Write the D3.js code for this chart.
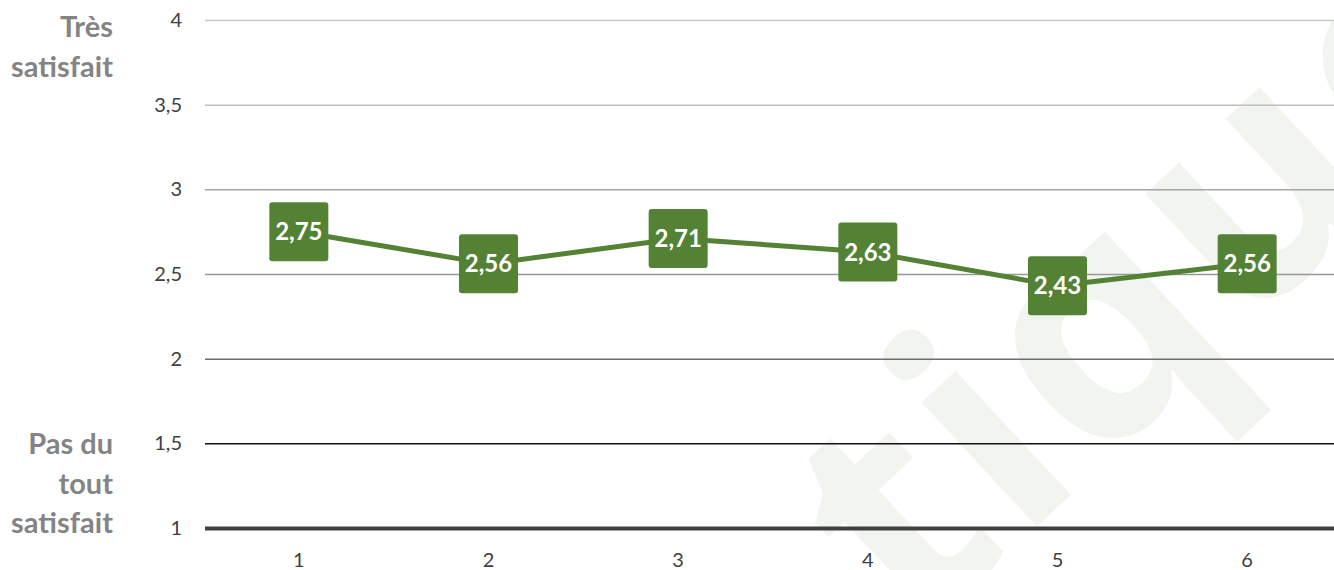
<!DOCTYPE html>
<html>
<head>
<meta charset="utf-8">
<script src="https://cdn.jsdelivr.net/npm/d3@7"></script>
<style>
  body { margin: 0; background: #fff; }
  svg { display: block; font-family: Lato, "Open Sans", sans-serif; }
</style>
</head>
<body>
<div id="chart"></div>
<script>

// data
const categories = [1, 2, 3, 4, 5, 6];
const scores = [2.75, 2.56, 2.71, 2.63, 2.43, 2.56];
const yTicks = [1, 1.5, 2, 2.5, 3, 3.5, 4];
const topLabel = ['Très', 'satisfait'];
const bottomLabel = ['Pas du', 'tout', 'satisfait'];

// grid colours, one per tick (bottom to top)
const gridColors = ['#404040', '#111111', '#6e6e6e', '#999999', '#a6a6a6', '#bfbfbf', '#c8c8c8'];

const width = 1334;
const height = 570;
const green = '#548235';

const fr = d3.formatLocale({ decimal: ',', thousands: ' ', grouping: [3], currency: ['', ' €'] });
const tickFmt = fr.format('~f');
const valueFmt = fr.format('.2f');

svg = d3.select('#chart').append('svg')
  .attr('width', width)
  .attr('height', height);

// faint watermark behind everything (runs off the edge, as in the original)
svg.append('text')
  .attr('transform', 'translate(915,640) rotate(-43)')
  .attr('font-family', 'Open Sans, sans-serif')
  .attr('font-weight', 'bold')
  .attr('font-size', 310)
  .attr('letter-spacing', 8)
  .attr('fill', '#f2f4f0')
  .text('tique');

const x = d3.scaleBand()
  .domain(categories)
  .range([204, 1342]);

const y = d3.scaleLinear()
  .domain([1, 4])
  .range([528, 20]);

const gridLeft = 205;

// horizontal grid + y labels
const yAxis = d3.axisLeft(y)
  .tickValues(yTicks)
  .tickFormat(tickFmt)
  .tickSize(-(width - gridLeft))
  .tickPadding(23);

const gy = svg.append('g')
  .attr('transform', 'translate(' + gridLeft + ',0)')
  .call(yAxis);

gy.select('.domain').remove();
gy.selectAll('.tick line')
  .attr('stroke', (d, i) => gridColors[i])
  .attr('stroke-width', d => d === 1 ? 4 : 1.5);
gy.selectAll('.tick text')
  .attr('fill', '#404040')
  .attr('font-size', 20)
  .attr('font-family', 'Lato, sans-serif');

// x labels
const xAxis = d3.axisBottom(x).tickSize(0).tickPadding(25);
const gx = svg.append('g')
  .attr('transform', 'translate(0,' + y(1) + ')')
  .call(xAxis);
gx.select('.domain').remove();
gx.selectAll('.tick text')
  .attr('fill', '#404040')
  .attr('font-size', 20)
  .attr('font-family', 'Lato, sans-serif');

// side labels
const side = svg.append('g')
  .attr('fill', '#848484')
  .attr('font-weight', 'bold')
  .attr('font-size', 29)
  .attr('text-anchor', 'end');

side.selectAll('.top')
  .data(topLabel)
  .enter()
  .append('text')
  .attr('x', 113)
  .attr('y', (d, i) => 37 + i * 40)
  .text(d => d);

side.selectAll('.bottom')
  .data(bottomLabel)
  .enter()
  .append('text')
  .attr('x', 113)
  .attr('y', (d, i) => 454 + i * 39.5)
  .text(d => d);

// line
const points = categories.map((c, i) => ({ cat: c, value: scores[i] }));
const cx = d => x(d.cat) + x.bandwidth() / 2;

const line = d3.line()
  .x(cx)
  .y(d => y(d.value));

svg.append('path')
  .datum(points)
  .attr('d', line)
  .attr('fill', 'none')
  .attr('stroke', green)
  .attr('stroke-width', 5)
  .attr('stroke-linejoin', 'round');

// square markers with value labels
const box = 59;
const marks = svg.selectAll('.mark')
  .data(points)
  .enter()
  .append('g')
  .attr('transform', d => 'translate(' + cx(d) + ',' + y(d.value) + ')');

marks.append('rect')
  .attr('x', -box / 2)
  .attr('y', -box / 2)
  .attr('width', box)
  .attr('height', box)
  .attr('rx', 3)
  .attr('fill', green);

marks.append('text')
  .attr('text-anchor', 'middle')
  .attr('dy', '0.36em')
  .attr('fill', '#ffffff')
  .attr('font-weight', 'bold')
  .attr('font-size', 24)
  .text(d => valueFmt(d.value));

</script>
</body>
</html>
